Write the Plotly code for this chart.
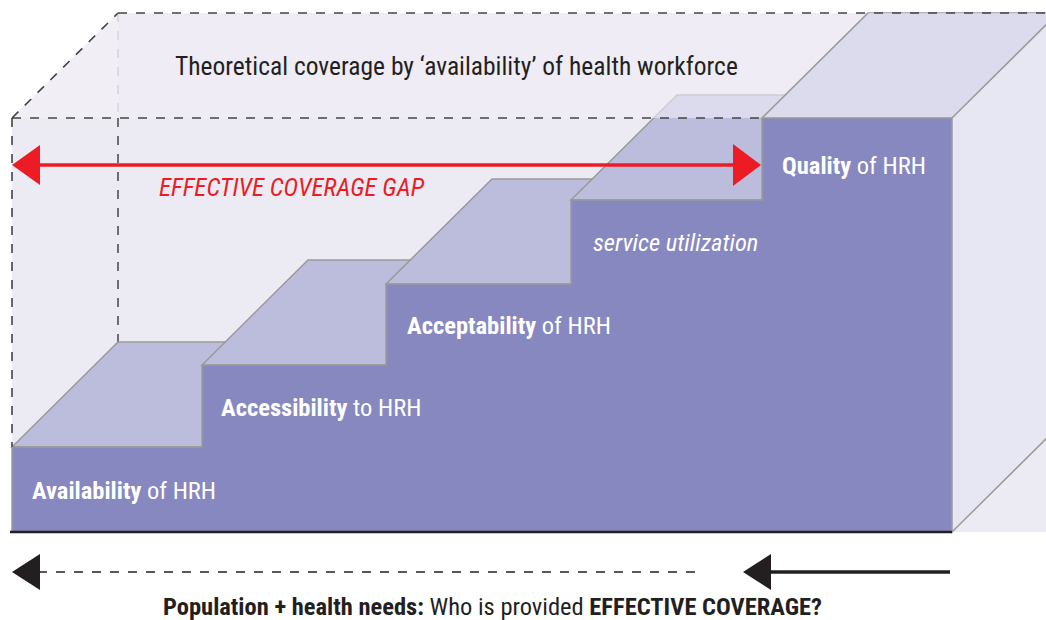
import plotly.graph_objects as go

# ---- diagram data (diagram units: x to the right, y downward) ----
step_names = ["Availability", "Accessibility", "Acceptability", "service utilization", "Quality"]
step_suffix = [" of HRH", " to HRH", " of HRH", "", " of HRH"]
step_edges = [12, 202, 386, 571, 762, 952]          # x boundaries of the stair steps
base_level = 532                                     # floor of the stairs
step_levels = [447, 365, 284, 200, 118]             # top of each step
box_top = 118                                        # theoretical coverage level
depth = (106, -105)                                  # 3D depth offset
title_text = "Theoretical coverage by \u2018availability\u2019 of health workforce"
gap_text = "EFFECTIVE COVERAGE GAP"
bottom_bold1 = "Population + health needs:"
bottom_reg = " Who is provided "
bottom_bold2 = "EFFECTIVE COVERAGE?"

FONT = "Liberation Sans Narrow, Roboto Condensed, Arial Narrow, Roboto, sans-serif"
PURPLE = "#8788c0"
TOPC = "#bcbcdc"
EDGE = "#9a9a9a"
RED = "#ed1c24"

dx, dy = depth
x0 = step_edges[0]
xr = step_edges[-1]


def poly(pts):
    return "M " + " L ".join(f"{x},{y}" for x, y in pts) + " Z"


def line(pts):
    return "M " + " L ".join(f"{x},{y}" for x, y in pts)


shapes = []

# box interior
shapes.append(dict(type="path", path=poly([(x0, base_level), (x0, box_top), (x0 + dx, box_top + dy),
                                           (1046, box_top + dy), (1046, base_level)]),
                   fillcolor="#ecebf4", line=dict(width=0), layer="above"))
shapes.append(dict(type="path", path=poly([(x0, box_top), (x0 + dx, box_top + dy), (x0 + dx, box_top)]),
                   fillcolor="#f1eef5", line=dict(width=0), layer="above"))
# back vertical dashed line
shapes.append(dict(type="line", x0=x0 + dx, x1=x0 + dx, y0=box_top + dy, y1=box_top,
                   line=dict(color="#aaaaaa", width=1.5, dash="dash"), layer="above"))
shapes.append(dict(type="line", x0=x0 + dx, x1=x0 + dx, y0=box_top, y1=step_levels[0] + dy,
                   line=dict(color="#444444", width=1.5, dash="dash"), layer="above"))

# step top faces
for i in range(5):
    L, R, T = step_edges[i], step_edges[i + 1], step_levels[i]
    shapes.append(dict(type="path", path=poly([(L, T), (L + dx, T + dy), (R + dx, T + dy), (R, T)]),
                       fillcolor=TOPC, line=dict(color=EDGE, width=1.5), layer="above"))

# translucent top plane of the theoretical box
shapes.append(dict(type="path", path=poly([(x0, box_top), (x0 + dx, box_top + dy), (xr + dx, box_top + dy), (xr, box_top)]),
                   fillcolor="rgba(240,238,247,0.62)", line=dict(width=0), layer="above"))

# front staircase
pts = [(x0, base_level)]
for i in range(5):
    pts.append((step_edges[i], step_levels[i]))
    pts.append((step_edges[i + 1], step_levels[i]))
pts.append((xr, base_level))
shapes.append(dict(type="path", path=poly(pts), fillcolor=PURPLE, line=dict(color=EDGE, width=1.5), layer="above"))

# right side face
shapes.append(dict(type="path", path=poly([(xr, box_top), (xr + dx, box_top + dy), (xr + dx, base_level + dy), (xr, base_level)]),
                   fillcolor="#e7e7f3", line=dict(color=EDGE, width=1.5), layer="above"))

# step 5 edges redrawn
shapes.append(dict(type="path", path=line([(step_edges[4], box_top), (step_edges[4] + dx, box_top + dy)]),
                   line=dict(color=EDGE, width=1.5), layer="above"))

# dashed box outline
dash_style = dict(color="#444444", width=1.6, dash="dash")
shapes.append(dict(type="line", x0=x0, x1=step_edges[4], y0=box_top, y1=box_top, line=dash_style, layer="above"))
shapes.append(dict(type="line", x0=x0, x1=x0, y0=box_top, y1=step_levels[0], line=dash_style, layer="above"))
shapes.append(dict(type="line", x0=x0, x1=x0 + dx, y0=box_top, y1=box_top + dy, line=dash_style, layer="above"))
shapes.append(dict(type="line", x0=x0 + dx, x1=1046, y0=box_top + dy, y1=box_top + dy, line=dash_style, layer="above"))

# floor line
shapes.append(dict(type="line", x0=10, x1=xr, y0=base_level, y1=base_level,
                   line=dict(color="#231f20", width=2.5), layer="above"))

# red gap arrow
ay = 165
shapes.append(dict(type="line", x0=36, x1=738, y0=ay, y1=ay, line=dict(color=RED, width=3.5), layer="above"))
shapes.append(dict(type="path", path=poly([(x0, ay), (40, ay - 20), (40, ay + 20)]), fillcolor=RED,
                   line=dict(width=0), layer="above"))
shapes.append(dict(type="path", path=poly([(step_edges[4] - 1, ay), (733, ay - 21), (733, ay + 21)]), fillcolor=RED,
                   line=dict(width=0), layer="above"))

# bottom arrows
by = 572
shapes.append(dict(type="line", x0=38, x1=700, y0=by, y1=by, line=dict(color="#231f20", width=1.5, dash="dash"), layer="above"))
shapes.append(dict(type="path", path=poly([(x0, by), (40, by - 18), (40, by + 18)]), fillcolor="#231f20",
                   line=dict(width=0), layer="above"))
shapes.append(dict(type="line", x0=765, x1=950, y0=by, y1=by, line=dict(color="#231f20", width=3.5), layer="above"))
shapes.append(dict(type="path", path=poly([(743, by), (771, by - 18), (771, by + 18)]), fillcolor="#231f20",
                   line=dict(width=0), layer="above"))

annotations = []
annotations.append(dict(x=456, y=66, text=title_text, showarrow=False, xanchor="center", yanchor="middle",
                        font=dict(family=FONT, size=25.5, color="#231f20")))
annotations.append(dict(x=157, y=187, text=f"<i>{gap_text}</i>", showarrow=False, xanchor="left", yanchor="middle",
                        font=dict(family=FONT, size=25, color=RED)))
label_pos = [(30, 490), (219, 407), (405, 325), (591, 242), (780, 165)]
for (lx, ly), nm, suf in zip(label_pos, step_names, step_suffix):
    txt = f"<i>{nm}</i>" if suf == "" else f"<b>{nm}</b>{suf}"
    annotations.append(dict(x=lx, y=ly, text=txt, showarrow=False, xanchor="left", yanchor="middle",
                            font=dict(family=FONT, size=24.5, color="white")))
annotations.append(dict(x=492, y=606, text=f"<b>{bottom_bold1}</b>{bottom_reg}<b>{bottom_bold2}</b>",
                        showarrow=False, xanchor="center", yanchor="middle",
                        font=dict(family=FONT, size=24.5, color="#231f20")))

fig = go.Figure()
fig.add_trace(go.Scatter(x=[0, 1046], y=[0, 620], mode="markers", marker=dict(opacity=0), hoverinfo="skip",
                         showlegend=False))
fig.update_layout(
    width=1046, height=620, margin=dict(l=0, r=0, t=0, b=0),
    paper_bgcolor="white", plot_bgcolor="white",
    xaxis=dict(range=[0, 1046], visible=False, fixedrange=True),
    yaxis=dict(range=[620, 0], visible=False, fixedrange=True),
    shapes=shapes, annotations=annotations, showlegend=False,
)
fig.write_html("out.html", config={"displayModeBar": False},
               post_script="document.body.style.margin='0';document.body.style.overflow='hidden';")
